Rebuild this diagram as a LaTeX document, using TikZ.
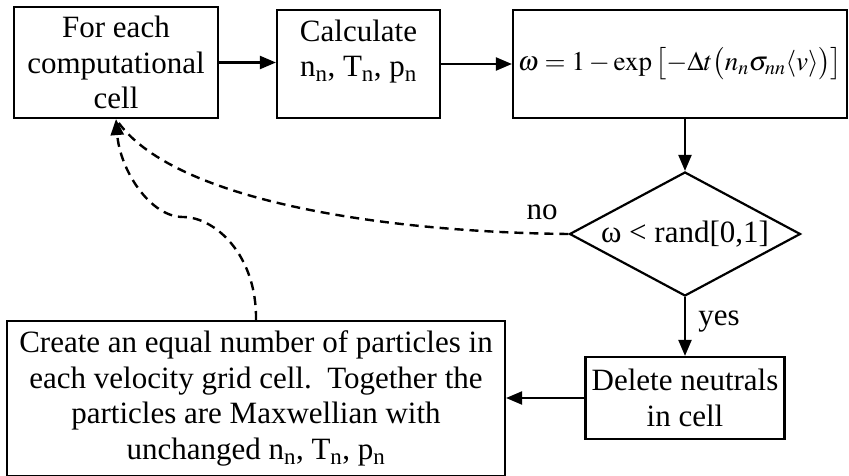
\documentclass[tikz,border=0pt]{standalone}
\usepackage{mathptmx}
\usepackage{fontspec}
\setmainfont{Liberation Serif}
\usetikzlibrary{arrows.meta,shapes.geometric}

\begin{document}
\begin{tikzpicture}[
  x=1pt, y=-1pt,
  >={Triangle[length=16pt,width=13pt]},
  every node/.style={font=\fontsize{31}{35.5}\selectfont},
  box/.style={draw, line width=2.2pt, align=center, inner sep=0pt},
  flow/.style={->, line width=2.2pt},
  back/.style={line width=2.4pt, dash pattern=on 9pt off 6pt}
]
  \useasboundingbox (0,0) rectangle (849,476);
  \clip (0,0) rectangle (849,476);

  % Top row
  \node[box, minimum width=204, minimum height=111] (cell) at (116,62.5)
    {For each\\computational\\cell};
  \node[box, minimum width=163, minimum height=108, text depth=32pt] (calc) at (358.5,64)
    {Calculate\\n\textsubscript{n}, T\textsubscript{n}, p\textsubscript{n}};
  \node[box, minimum width=334, minimum height=108, font=\fontsize{27}{32}\selectfont] (omega) at (680,64)
    {$\omega = 1 - \exp\left[-\Delta t\bigl(n_n\sigma_{nn}\langle v\rangle\bigr)\right]$};

  % Test and the two outcomes
  \node[draw, diamond, aspect=1.86, line width=2.2pt, inner sep=0pt,
        minimum width=231, minimum height=124] (test) at (685,234) {ω < rand[0,1]};
  \node[box, minimum width=199, minimum height=82] (delete) at (685,398)
    {Delete neutrals\\in cell};
  \node[box, minimum width=498, inner ysep=10pt, anchor=north] (create) at (256,320)
    {Create an equal number of particles in\\each velocity grid cell.\ \ Together the\\
     particles are Maxwellian with\\unchanged n\textsubscript{n}, T\textsubscript{n}, p\textsubscript{n}};

  \node (no)  at (542,212) {no};
  \node (yes) at (719,322) {yes};

  % Solid flow
  \draw[flow] (cell.east) -- (cell.east -| calc.west);
  \draw[flow] (calc.east) -- (calc.east -| omega.west);
  \draw[flow] (omega.south -| test.north) -- (test.north);
  \draw[flow] (test.south) -- (delete.north);
  \draw[flow] (delete.west) -- (delete.west -| create.east);

  % Dashed returns to the first box
  \coordinate (bend) at (183,217);
  \draw[back] (test.west) .. controls (380,232) and (170,200) .. (cell.south);
  \draw[back, ->] (create.north) .. controls (257,255) and (215,217) .. (bend)
    .. controls (150,217) and (120,170) .. (cell.south);
\end{tikzpicture}
\end{document}
